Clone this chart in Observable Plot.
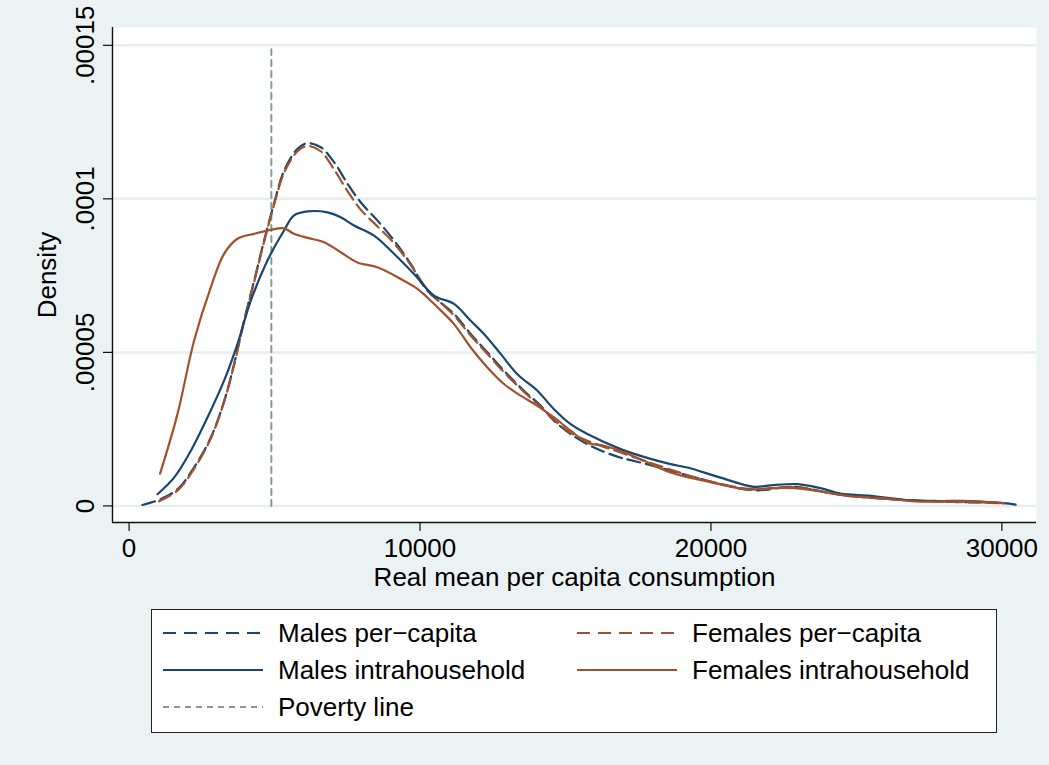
<!DOCTYPE html>
<html>
<head>
<meta charset="utf-8">
<script src="https://cdn.jsdelivr.net/npm/d3@7"></script>
<script src="https://cdn.jsdelivr.net/npm/@observablehq/plot@0.6"></script>
<style>
  html, body { margin: 0; padding: 0; background: #eaf2f3; }
  #wrap { position: relative; width: 1049px; height: 765px; background: #eaf2f3; font-family: "Liberation Sans", Arial, Helvetica, sans-serif; }
  #legend { position: absolute; left: 151px; top: 609px; width: 846px; height: 124px; box-sizing: border-box; border: 1.5px solid #222; background: #fff; }
  .item { position: absolute; height: 30px; }
  .item svg { position: absolute; left: 0; top: 0; }
  .item span { position: absolute; top: 0; line-height: 30px; font-size: 26px; color: #000; white-space: nowrap; }
</style>
</head>
<body>
<div id="wrap">
  <div id="chart"></div>
  <div id="legend"></div>
</div>
<script>
// ---------- data ----------
const malesPcX = [460, 1030, 1660, 2230, 2810, 3270, 3610, 3950, 4300, 4640, 4980, 5330, 5790, 6130, 6590, 7050, 7510, 7960, 8540, 9110, 9680, 10250, 11170, 11740, 12320, 12890, 13570, 14150, 14610, 15180, 15980, 16900, 17240, 18160, 19880, 21480, 22850, 24340, 26140, 28350, 30070, 30530];
const malesPcY = [0.03e-5, 0.2e-5, 0.54e-5, 1.25e-5, 2.23e-5, 3.42e-5, 4.62e-5, 6.03e-5, 7.34e-5, 8.64e-5, 9.84e-5, 10.92e-5, 11.63e-5, 11.81e-5, 11.68e-5, 11.19e-5, 10.49e-5, 9.89e-5, 9.29e-5, 8.64e-5, 7.88e-5, 7.01e-5, 6.25e-5, 5.6e-5, 5.0e-5, 4.4e-5, 3.75e-5, 3.26e-5, 2.77e-5, 2.34e-5, 1.9e-5, 1.57e-5, 1.49e-5, 1.27e-5, 0.82e-5, 0.51e-5, 0.62e-5, 0.38e-5, 0.22e-5, 0.13e-5, 0.09e-5, 0.03e-5];

const femalesPcX = [1030, 1660, 2230, 2810, 3270, 3610, 3950, 4300, 4640, 4980, 5330, 5790, 6130, 6590, 7050, 7510, 7960, 8540, 9110, 9680, 10250, 11170, 11740, 12320, 12890, 13570, 14150, 14610, 15180, 15750, 16900, 18040, 19880, 21480, 22850, 24340, 26140, 28350, 30070];
const femalesPcY = [0.15e-5, 0.5e-5, 1.2e-5, 2.2e-5, 3.4e-5, 4.6e-5, 6.0e-5, 7.3e-5, 8.6e-5, 9.8e-5, 10.85e-5, 11.55e-5, 11.72e-5, 11.55e-5, 10.95e-5, 10.25e-5, 9.65e-5, 9.1e-5, 8.55e-5, 7.85e-5, 7.05e-5, 6.2e-5, 5.55e-5, 4.95e-5, 4.35e-5, 3.72e-5, 3.22e-5, 2.8e-5, 2.38e-5, 2.12e-5, 1.74e-5, 1.36e-5, 0.82e-5, 0.54e-5, 0.62e-5, 0.38e-5, 0.22e-5, 0.13e-5, 0.09e-5];

const malesIntraX = [975, 1546, 2120, 2694, 3265, 3725, 4182, 4756, 5326, 5670, 6130, 6818, 7275, 7732, 8419, 9107, 9794, 10481, 11168, 11742, 12199, 12773, 13347, 14034, 14605, 15179, 15753, 16897, 17584, 18615, 19189, 20333, 21478, 22052, 22969, 23770, 24457, 25488, 26632, 27780, 28924, 30069];
const malesIntraY = [0.38e-5, 0.92e-5, 1.79e-5, 2.88e-5, 4.08e-5, 5.27e-5, 6.68e-5, 7.99e-5, 8.97e-5, 9.46e-5, 9.59e-5, 9.56e-5, 9.4e-5, 9.13e-5, 8.8e-5, 8.21e-5, 7.55e-5, 6.85e-5, 6.58e-5, 6.03e-5, 5.6e-5, 4.95e-5, 4.29e-5, 3.75e-5, 3.15e-5, 2.66e-5, 2.34e-5, 1.85e-5, 1.63e-5, 1.36e-5, 1.25e-5, 0.92e-5, 0.62e-5, 0.67e-5, 0.71e-5, 0.58e-5, 0.4e-5, 0.33e-5, 0.2e-5, 0.16e-5, 0.16e-5, 0.09e-5];

const femalesIntraX = [1065, 1663, 2234, 2808, 3265, 3725, 4296, 4869, 5326, 5670, 6130, 6701, 7275, 7849, 8536, 9337, 9911, 10598, 11168, 11742, 12316, 12887, 13460, 14034, 14605, 15179, 15753, 16323, 16897, 17584, 18615, 19760, 21251, 22052, 22854, 23770, 24687, 26062, 27206, 28694, 30069];
const femalesIntraY = [1.05e-5, 2.99e-5, 5.38e-5, 7.12e-5, 8.21e-5, 8.7e-5, 8.86e-5, 8.99e-5, 9.04e-5, 8.86e-5, 8.73e-5, 8.59e-5, 8.26e-5, 7.93e-5, 7.77e-5, 7.39e-5, 7.07e-5, 6.47e-5, 5.92e-5, 5.16e-5, 4.51e-5, 3.97e-5, 3.59e-5, 3.26e-5, 2.88e-5, 2.45e-5, 2.06e-5, 1.96e-5, 1.79e-5, 1.52e-5, 1.09e-5, 0.82e-5, 0.54e-5, 0.58e-5, 0.58e-5, 0.47e-5, 0.33e-5, 0.24e-5, 0.14e-5, 0.16e-5, 0.09e-5];

const povertyX = [4890, 4890];
const povertyY = [0, 14.87e-5];

const xTicks = [0, 10000, 20000, 30000];
const xTickLabels = ["0", "10000", "20000", "30000"];
const yTicks = [0, 0.00005, 0.0001, 0.00015];
const yTickLabels = ["0", ".00005", ".0001", ".00015"];

const seriesNames = ["Males per\u2212capita", "Females per\u2212capita", "Males intrahousehold", "Females intrahousehold", "Poverty line"];
const xTitle = "Real mean per capita consumption";
const yTitle = "Density";

// ---------- styles ----------
const NAVY = "#1a476f", SIENNA = "#a0522d", POV = "#7f9d91";
const styles = [
  {stroke: NAVY, dash: "13,6", width: 2.2},
  {stroke: SIENNA, dash: "13,6", width: 2.2},
  {stroke: NAVY, dash: null, width: 2.2},
  {stroke: SIENNA, dash: null, width: 2.2},
  {stroke: POV, dash: "6,5", width: 2}
];

const rows = (xs, ys) => xs.map((x, i) => ({x, y: ys[i]}));
const series = [
  rows(malesPcX, malesPcY),
  rows(femalesPcX, femalesPcY),
  rows(malesIntraX, malesIntraY),
  rows(femalesIntraX, femalesIntraY),
  rows(povertyX, povertyY)
];

const xDomain = [-570, 31190];
const yDomain = [-0.54e-5, 15.58e-5];
const xFmt = new Map(xTicks.map((t, i) => [t, xTickLabels[i]]));

const lineMark = (k, curve) => Plot.line(series[k], {
  x: "x", y: "y", stroke: styles[k].stroke, strokeWidth: styles[k].width,
  strokeDasharray: styles[k].dash, curve
});

const chart = Plot.plot({
  width: 1049,
  height: 600,
  marginLeft: 112,
  marginRight: 13,
  marginTop: 27,
  marginBottom: 78,
  style: {background: "transparent", fontFamily: "'Liberation Sans', Arial, Helvetica, sans-serif", fontSize: "26px", color: "#000", overflow: "visible"},
  x: {domain: xDomain},
  y: {domain: yDomain},
  marks: [
    Plot.frame({fill: "white", stroke: "none"}),
    Plot.gridY(yTicks, {stroke: "#e6eef0", strokeOpacity: 1, strokeWidth: 2.5}),
    lineMark(4, "linear"),
    lineMark(0, "catmull-rom"),
    lineMark(1, "catmull-rom"),
    lineMark(2, "catmull-rom"),
    lineMark(3, "catmull-rom"),
    Plot.ruleX([xDomain[0]], {stroke: "#111", strokeWidth: 1.4}),
    Plot.ruleY([yDomain[0]], {stroke: "#111", strokeWidth: 1.4}),
    Plot.axisY(yTicks, {tickSize: 9, tickFormat: () => "", label: null, stroke: "#111", strokeWidth: 1.2}),
    Plot.text(yTicks, {y: d => d, text: d => yTickLabels[yTicks.indexOf(d)], frameAnchor: "left", dx: -27, rotate: -90, textAnchor: "middle", lineAnchor: "middle", fill: "#000", fontSize: 26}),
    Plot.axisX(xTicks, {tickSize: 9, tickPadding: 7, tickFormat: d => xFmt.get(d), label: null, stroke: "#111", strokeWidth: 1.2, fill: "#000", fontSize: 26}),
    Plot.text([xTitle], {frameAnchor: "bottom", dy: 63, lineAnchor: "bottom", textAnchor: "middle", fill: "#000", fontSize: 26}),
    Plot.text([yTitle], {frameAnchor: "left", dx: -65, rotate: -90, textAnchor: "middle", lineAnchor: "middle", fill: "#000", fontSize: 26})
  ]
});
document.getElementById("chart").appendChild(chart);

// ---------- legend ----------
const legend = document.getElementById("legend");
const legendOrder = [0, 1, 2, 3, 4];
const slotOf = [[0, 0], [1, 0], [0, 1], [1, 1], [0, 2]]; // [col,row]
const colLeft = [10, 424];
const rowTop = [8, 45, 82];
legendOrder.forEach(k => {
  const [c, r] = slotOf[k];
  const it = document.createElement("div");
  it.className = "item";
  it.style.left = colLeft[c] + "px";
  it.style.top = rowTop[r] + "px";
  const s = styles[k];
  it.innerHTML = `<svg width="102" height="30"><line x1="1" y1="15" x2="101" y2="15" stroke="${s.stroke}" stroke-width="${s.width}" ${s.dash ? `stroke-dasharray="${k === 4 ? '6,5' : '13,8'}"` : ""}/></svg>`;
  const sp = document.createElement("span");
  sp.style.left = "116px";
  sp.textContent = seriesNames[k];
  it.appendChild(sp);
  legend.appendChild(it);
});
</script>
</body>
</html>
